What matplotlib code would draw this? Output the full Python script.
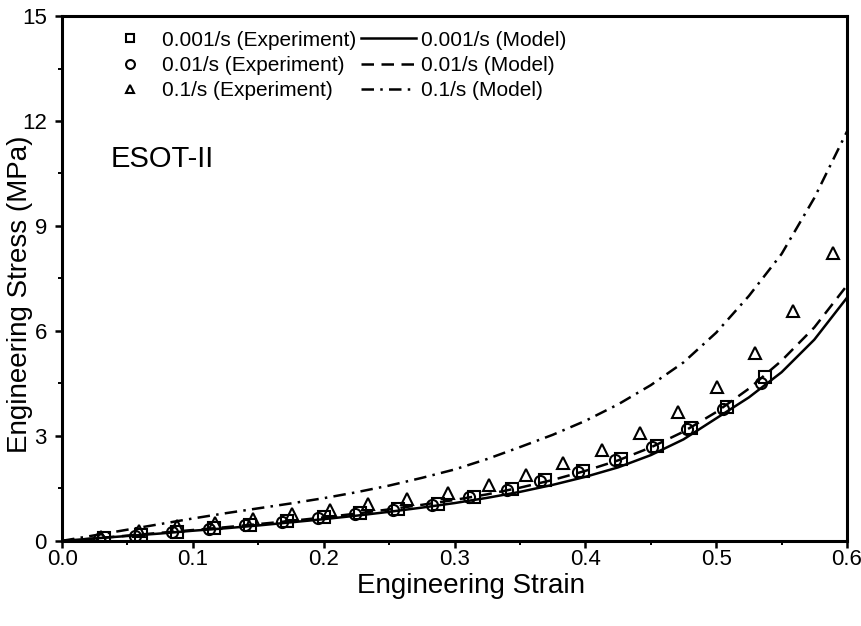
import matplotlib as mpl
mpl.use('Agg')
import matplotlib.pyplot as plt
from matplotlib.ticker import MultipleLocator

plt.rcParams['font.family'] = ['Liberation Sans', 'DejaVu Sans']

# experiment points
strain_001 = [0.032, 0.060, 0.088, 0.116, 0.144, 0.172, 0.200, 0.228, 0.257, 0.287,
              0.315, 0.344, 0.369, 0.398, 0.427, 0.455, 0.481, 0.508, 0.537]
stress_001 = [0.07, 0.16, 0.26, 0.36, 0.46, 0.56, 0.67, 0.79, 0.91, 1.05,
              1.26, 1.47, 1.74, 1.99, 2.33, 2.71, 3.22, 3.82, 4.69]

strain_01 = [0.028, 0.056, 0.084, 0.112, 0.140, 0.168, 0.196, 0.224, 0.253, 0.283,
             0.311, 0.340, 0.365, 0.394, 0.423, 0.451, 0.478, 0.505, 0.534]
stress_01 = [0.06, 0.15, 0.25, 0.35, 0.45, 0.54, 0.65, 0.77, 0.89, 1.03,
             1.24, 1.45, 1.72, 1.97, 2.31, 2.69, 3.20, 3.77, 4.51]

strain_1 = [0.030, 0.059, 0.088, 0.117, 0.146, 0.176, 0.205, 0.234, 0.264, 0.295,
            0.326, 0.355, 0.383, 0.413, 0.442, 0.471, 0.501, 0.530, 0.559, 0.589]
stress_1 = [0.12, 0.29, 0.42, 0.52, 0.63, 0.76, 0.87, 1.04, 1.20, 1.38,
            1.60, 1.89, 2.23, 2.60, 3.08, 3.69, 4.40, 5.37, 6.57, 8.23]

# model curves read at steps of 0.025
model_strain = [0.0, 0.025, 0.05, 0.075, 0.1, 0.125, 0.15, 0.175, 0.2, 0.225, 0.25, 0.275,
                0.3, 0.325, 0.35, 0.375, 0.4, 0.425, 0.45, 0.475, 0.5, 0.525, 0.55, 0.575, 0.6]
model_001 = [0.0, 0.07, 0.14, 0.21, 0.29, 0.36, 0.44, 0.53, 0.62, 0.72, 0.83, 0.95,
             1.08, 1.23, 1.40, 1.60, 1.83, 2.10, 2.45, 2.90, 3.50, 4.10, 4.82, 5.75, 6.95]
model_01 = [0.0, 0.07, 0.15, 0.23, 0.31, 0.39, 0.48, 0.57, 0.67, 0.78, 0.90, 1.03,
            1.17, 1.33, 1.52, 1.74, 2.00, 2.30, 2.67, 3.12, 3.68, 4.35, 5.15, 6.10, 7.30]
model_1 = [0.0, 0.16, 0.32, 0.48, 0.64, 0.79, 0.93, 1.07, 1.22, 1.39, 1.58, 1.80,
           2.04, 2.34, 2.68, 3.03, 3.43, 3.90, 4.45, 5.10, 5.95, 7.00, 8.20, 9.80, 11.70]

fig = plt.figure(figsize=(8.62, 6.26), dpi=100)
ax = fig.add_axes([0.072, 0.136, 0.9106, 0.8384])

mk = dict(linestyle='none', markerfacecolor='none', markeredgecolor='black',
          markersize=8, markeredgewidth=1.5)
h_sq, = ax.plot(strain_001, stress_001, marker='s', **mk)
h_ci, = ax.plot(strain_01, stress_01, marker='o', **mk)
h_tr, = ax.plot(strain_1, stress_1, marker='^', **mk)

h_m1, = ax.plot(model_strain, model_001, color='black', lw=1.8, linestyle='-')
h_m2, = ax.plot(model_strain, model_01, color='black', lw=1.8, linestyle=(0, (5, 3)))
h_m3, = ax.plot(model_strain, model_1, color='black', lw=1.8, linestyle=(0, (5, 2.5, 1, 2.5)))

ax.legend([h_sq, h_ci, h_tr, h_m1, h_m2, h_m3],
          ['0.001/s (Experiment)', '0.01/s (Experiment)', '0.1/s (Experiment)',
           '0.001/s (Model)', '0.01/s (Model)', '0.1/s (Model)'],
          ncol=2, loc='upper left', frameon=False, fontsize=15,
          handlelength=2.64, handletextpad=0.24, columnspacing=0.24,
          labelspacing=0.3, borderaxespad=0, borderpad=0, markerscale=0.8,
          bbox_to_anchor=(0.051, 0.972))

ax.text(0.037, 10.9, 'ESOT-II', fontsize=21, va='center', ha='left')

ax.set_xlim(0, 0.6)
ax.set_ylim(0, 15)
ax.xaxis.set_major_locator(MultipleLocator(0.1))
ax.xaxis.set_minor_locator(MultipleLocator(0.05))
ax.yaxis.set_major_locator(MultipleLocator(3))
ax.yaxis.set_minor_locator(MultipleLocator(1.5))
ax.xaxis.set_major_formatter(mpl.ticker.FormatStrFormatter('%.1f'))
ax.tick_params(which='major', direction='out', length=5, width=1.8, labelsize=16)
ax.tick_params(which='minor', direction='out', length=3, width=1.4)
ax.tick_params(axis='x', which='major', pad=1)
ax.tick_params(axis='y', which='major', pad=6)
for s in ax.spines.values():
    s.set_linewidth(2.2)

ax.set_xlabel('Engineering Strain', fontsize=20)
ax.set_ylabel('Engineering Stress (MPa)', fontsize=20)
ax.xaxis.set_label_coords(0.521, -0.062)
ax.xaxis.label.set_verticalalignment('top')
ax.yaxis.set_label_coords(-0.037, 0.47)

fig.savefig('out.png', dpi=100)
